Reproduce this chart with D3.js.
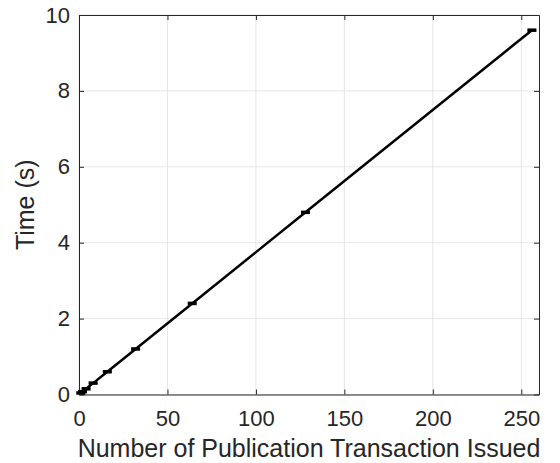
<!DOCTYPE html>
<html>
<head>
<meta charset="utf-8">
<script src="https://cdn.jsdelivr.net/npm/d3@7"></script>
<style>
body { margin: 0; background: #fff; }
text { font-family: "Liberation Sans", Arial, sans-serif; fill: #262626; }
</style>
</head>
<body>
<script>
const width = 560;
const height = 463;
const margin = {top: 15, right: 21, bottom: 68.5, left: 79};

//-----------------------------DATA------------------------------//
const txCount = [1, 2, 4, 8, 16, 32, 64, 128, 256];
const timeSec = [0.04, 0.075, 0.15, 0.3, 0.6, 1.2, 2.4, 4.8, 9.6];
const timeErr = [0.02, 0.02, 0.02, 0.02, 0.02, 0.02, 0.02, 0.02, 0.02];
const xTicks = [0, 50, 100, 150, 200, 250];
const yTicks = [0, 2, 4, 6, 8, 10];

const data = txCount.map(function(d, i) {
	return {n: d, t: timeSec[i], e: timeErr[i]};
});

const svg = d3.select("body").append("svg")
	.attr("width", width).attr("height", height);

const w = width - margin.left - margin.right;
const h = height - margin.top - margin.bottom;

const g = svg.append("g")
	.attr("transform", "translate(" + margin.left + "," + margin.top + ")");

//----------------------------SCALES-----------------------------//
const xScale = d3.scaleLinear().domain([0, 260]).range([0, w]);
const yScale = d3.scaleLinear().domain([0, 10]).range([h, 0]);

//-----------------------------GRID------------------------------//
g.append("g").selectAll("line").data(xTicks).enter().append("line")
	.attr("x1", d => xScale(d)).attr("x2", d => xScale(d))
	.attr("y1", 0).attr("y2", h)
	.attr("stroke", "#e6e6e6").attr("stroke-width", 1);

g.append("g").selectAll("line").data(yTicks).enter().append("line")
	.attr("y1", d => yScale(d)).attr("y2", d => yScale(d))
	.attr("x1", 0).attr("x2", w)
	.attr("stroke", "#e6e6e6").attr("stroke-width", 1);

//-----------------------------AXES------------------------------//
const tickLen = 5;
function styleAxis(sel) {
	sel.select(".domain").attr("stroke", "#262626").attr("stroke-width", 1);
	sel.selectAll(".tick line").attr("stroke", "#262626");
	sel.selectAll("text").style("font-size", "22px").attr("fill", "#262626");
}

// bottom, ticks pointing in
g.append("g").attr("transform", "translate(0," + h + ")")
	.call(d3.axisBottom(xScale).tickValues(xTicks).tickSizeInner(-tickLen).tickSizeOuter(0).tickPadding(16))
	.call(styleAxis);

// left
g.append("g")
	.call(d3.axisLeft(yScale).tickValues(yTicks).tickSizeInner(-tickLen).tickSizeOuter(0).tickPadding(9))
	.call(styleAxis);

// top and right (box on)
g.append("g")
	.call(d3.axisTop(xScale).tickValues(xTicks).tickSizeInner(-tickLen).tickSizeOuter(0).tickFormat(""))
	.call(styleAxis);

g.append("g").attr("transform", "translate(" + w + ",0)")
	.call(d3.axisRight(yScale).tickValues(yTicks).tickSizeInner(-tickLen).tickSizeOuter(0).tickFormat(""))
	.call(styleAxis);

//----------------------------LINE-------------------------------//
const line = d3.line()
	.x(d => xScale(d.n))
	.y(d => yScale(d.t));

g.append("path").datum(data)
	.attr("fill", "none")
	.attr("stroke", "#000")
	.attr("stroke-width", 2.5)
	.attr("d", line);

// error bars
const capW = 4.5;
const bars = g.append("g").selectAll("g").data(data).enter().append("g");

bars.append("line")
	.attr("x1", d => xScale(d.n)).attr("x2", d => xScale(d.n))
	.attr("y1", d => yScale(d.t - d.e)).attr("y2", d => yScale(d.t + d.e))
	.attr("stroke", "#000").attr("stroke-width", 2.5);

bars.selectAll(".cap").data(d => [[d.n, d.t - d.e], [d.n, d.t + d.e]]).enter()
	.append("line")
	.attr("x1", d => xScale(d[0]) - capW).attr("x2", d => xScale(d[0]) + capW)
	.attr("y1", d => yScale(d[1])).attr("y2", d => yScale(d[1]))
	.attr("stroke", "#000").attr("stroke-width", 2);

//---------------------------LABELS------------------------------//
svg.append("text")
	.attr("x", margin.left + w / 2)
	.attr("y", 457)
	.attr("text-anchor", "middle")
	.style("font-size", "25px")
	.text("Number of Publication Transaction Issued");

svg.append("text")
	.attr("transform", "translate(34," + (margin.top + h / 2) + ") rotate(-90)")
	.attr("text-anchor", "middle")
	.style("font-size", "25px")
	.text("Time (s)");
</script>
</body>
</html>
